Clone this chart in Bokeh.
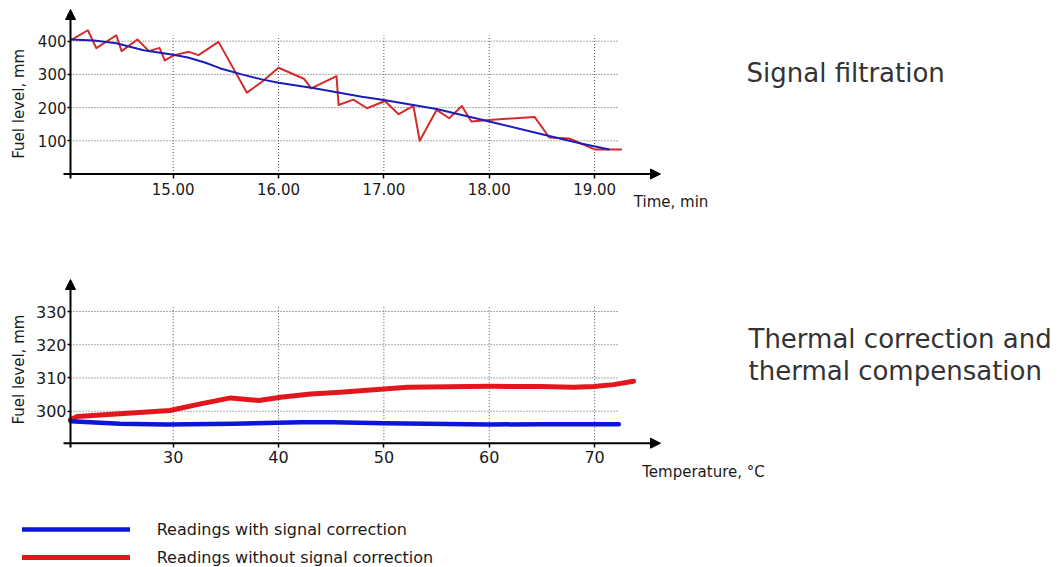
import math
from bokeh.plotting import figure
from bokeh.models import (Range1d, FixedTicker, NumeralTickFormatter, Arrow, NormalHead,
                          Label, Legend, LegendItem)
from bokeh.layouts import column
from bokeh.embed import file_html
from bokeh.resources import INLINE

# ---------------- data: signal filtration (time in min, fuel level in mm) ----------------
filt_time_raw = [14.03, 14.19, 14.27, 14.46, 14.51, 14.66, 14.77, 14.87, 14.92, 15.01,
                 15.15, 15.24, 15.43, 15.70, 15.84, 16.00, 16.24, 16.31, 16.55, 16.57,
                 16.71, 16.84, 17.01, 17.14, 17.28, 17.34, 17.50, 17.62, 17.74, 17.83,
                 17.97, 18.43, 18.57, 18.76, 19.00, 19.16, 19.26]
filt_level_raw = [403, 433, 379, 418, 370, 405, 370, 380, 342, 358,
                  368, 358, 398, 245, 277, 320, 287, 258, 295, 208,
                  224, 198, 220, 180, 205, 100, 193, 168, 205, 158,
                  162, 172, 110, 107, 74, 74, 74]
filt_time_smooth = [14.03, 14.25, 14.46, 14.72, 15.00, 15.14, 15.30, 15.45, 15.65, 15.84,
                    16.00, 16.34, 16.79, 17.00, 17.50, 18.00, 18.50, 18.87, 19.14]
filt_level_smooth = [405, 402, 394, 373, 359, 351, 336, 318, 300, 285,
                     275, 258, 233, 223, 196, 158, 120, 92, 74]
filt_xticks = [15, 16, 17, 18, 19]
filt_yticks = [100, 200, 300, 400]

# ---------------- data: thermal correction (temperature in C, fuel level in mm) ----------
temp_raw = [20.25, 20.89, 24.94, 29.69, 32.59, 35.44, 38.13, 40.19, 43.03, 45.88,
            50.0, 52.2, 60.1, 64.9, 68.0, 69.9, 71.8, 73.7]
level_raw = [297.4, 298.4, 299.2, 300.2, 302.2, 304.0, 303.2, 304.2, 305.2, 305.7,
             306.7, 307.2, 307.5, 307.4, 307.2, 307.4, 308.0, 309.0]
temp_corr = [20.25, 24.94, 29.43, 35.75, 42.08, 45.2, 50.0, 60.1, 64.9, 72.3]
level_corr = [297.0, 296.2, 296.0, 296.2, 296.7, 296.7, 296.4, 296.0, 296.1, 296.1]
temp_xticks = [30, 40, 50, 60, 70]
temp_yticks = [300, 310, 320, 330]

# ---------------- layout (screen pixel geometry) ----------------
FONT = "DejaVu Sans"
W = 1060
H1 = 240
H2 = 327
TOP2 = H1
BASE_SHIFT = 0.37   # em shift so that the text baseline lands where intended


def t_at(px):      # screen x -> minutes (top chart)
    return 17 + (px - 383.4) / 105.35


def lv1_at(py):    # screen y -> mm (top chart)
    return (173.5 - py) / 0.332


def T_at(px):      # screen x -> degrees (bottom chart)
    return 50 + (px - 383.4) / 10.535


def lv2_at(py):    # screen y -> mm (bottom chart)
    return 300 + (410.7 - py) / 3.323


def make_fig(xr, yr, h):
    p = figure(width=W, height=h, output_backend="svg", toolbar_location=None,
               x_range=Range1d(*xr), y_range=Range1d(*yr))
    p.min_border_left = p.min_border_right = p.min_border_top = p.min_border_bottom = 0
    p.outline_line_color = None
    p.xgrid.visible = False
    p.ygrid.visible = False
    p.background_fill_color = "white"
    p.border_fill_color = "white"
    return p


def style_axes(p, xticks, yticks, x_loc, y_loc, xfs, yfs, xstand, ystand):
    p.xaxis.fixed_location = x_loc
    p.yaxis.fixed_location = y_loc
    p.xaxis.ticker = FixedTicker(ticks=xticks)
    p.yaxis.ticker = FixedTicker(ticks=yticks)
    for ax in (p.xaxis, p.yaxis):
        ax.axis_line_color = None
        ax.major_tick_line_color = "black"
        ax.major_tick_line_width = 1.5
        ax.major_tick_in = 0
        ax.minor_tick_line_color = None
        ax.major_label_text_font = FONT
        ax.major_label_text_color = "#1a1a1a"
    p.xaxis.major_tick_out = 4
    p.yaxis.major_tick_out = 3
    p.xaxis.major_label_text_font_size = xfs
    p.yaxis.major_label_text_font_size = yfs
    p.xaxis.major_label_standoff = xstand
    p.yaxis.major_label_standoff = ystand


def add_axis_arrows(p, x0, x_tail, x_tip, y0, y_tail, y_tip):
    p.add_layout(Arrow(end=NormalHead(size=10, fill_color="black", line_color="black", line_width=1),
                       x_start=x_tail, y_start=y0, x_end=x_tip, y_end=y0,
                       line_color="black", line_width=2))
    p.add_layout(Arrow(end=NormalHead(size=10, fill_color="black", line_color="black", line_width=1),
                       x_start=x0, y_start=y_tail, x_end=x0, y_end=y_tip,
                       line_color="black", line_width=2))


def add_grid(p, xticks, yticks, x0, x1, y0, y1):
    p.segment(x0=xticks, y0=[y0] * len(xticks), x1=xticks, y1=[y1] * len(xticks),
              line_color="#555555", line_width=1, line_dash="1 2")
    p.segment(x0=[x0] * len(yticks), y0=yticks, x1=[x1] * len(yticks), y1=yticks,
              line_color="#555555", line_width=1, line_dash="1 2")


def text_at(p, fx, fy, px, py, text, fs, color="#1a1a1a"):
    """Left-aligned text whose baseline sits at screen (px, py)."""
    p.add_layout(Label(x=fx(px), y=fy(py - BASE_SHIFT * fs), text=text, text_font=FONT,
                       text_font_size=f"{fs}px", text_color=color,
                       text_align="left", text_baseline="alphabetic"))


def vlabel(p, x, y, text, fs):
    p.add_layout(Label(x=x, y=y, text=text, text_font=FONT, text_font_size=f"{fs}px",
                       text_color="#1a1a1a", angle=math.pi / 2,
                       text_align="center", text_baseline="middle"))


# ---------------- top chart ----------------
p1 = make_fig((t_at(0), t_at(W)), (lv1_at(H1), lv1_at(0)), H1)
x_axis_t = t_at(70)
add_grid(p1, filt_xticks, filt_yticks, x_axis_t, t_at(617), 0, lv1_at(35))
p1.line(filt_time_raw, filt_level_raw, line_color="#d42b2b", line_width=2, line_join="round")
p1.line(filt_time_smooth, filt_level_smooth, line_color="#1c1cb8", line_width=2, line_join="round")
style_axes(p1, filt_xticks, filt_yticks, 0, x_axis_t, "15px", "15px", 5, 1)
p1.xaxis.formatter = NumeralTickFormatter(format="0.00")
add_axis_arrows(p1, x_axis_t, t_at(63), t_at(660), 0, lv1_at(178), lv1_at(9))
text_at(p1, t_at, lv1_at, 746, 82.3, "Signal filtration", 26, color="#333333")
text_at(p1, t_at, lv1_at, 633.3, 206.7, "Time, min", 15)
vlabel(p1, t_at(18.6), lv1_at(103.3), "Fuel level, mm", 15)

# ---------------- bottom chart ----------------
p2 = make_fig((T_at(0), T_at(W)), (lv2_at(TOP2 + H2), lv2_at(TOP2)), H2)
y_axis_T = T_at(70)
x_axis_lv = lv2_at(442.7)
add_grid(p2, temp_xticks, temp_yticks, y_axis_T, T_at(617), x_axis_lv, lv2_at(306.7))
r_red = p2.line(temp_raw, level_raw, line_color="#e3161c", line_width=5,
                line_join="round", line_cap="round")
r_blue = p2.line(temp_corr, level_corr, line_color="#0c16d6", line_width=4.5,
                 line_join="round", line_cap="round")
style_axes(p2, temp_xticks, temp_yticks, x_axis_lv, y_axis_T, "16px", "16px", 4, 1)
add_axis_arrows(p2, y_axis_T, T_at(63), T_at(660), x_axis_lv, lv2_at(447), lv2_at(279))
text_at(p2, T_at, lv2_at, 748, 348.0, "Thermal correction and", 26, color="#333333")
text_at(p2, T_at, lv2_at, 748, 380.0, "thermal compensation", 26, color="#333333")
text_at(p2, T_at, lv2_at, 641.7, 476.7, "Temperature, \u00b0C", 15)
vlabel(p2, T_at(18.6), lv2_at(366.7), "Fuel level,  mm", 15)

legend = Legend(items=[LegendItem(label="Readings with signal correction", renderers=[r_blue]),
                       LegendItem(label="Readings without signal correction", renderers=[r_red])],
                location=(21.7, 0), padding=0, margin=0, spacing=8,
                glyph_width=108, glyph_height=20, label_height=20, label_standoff=27,
                label_text_font=FONT, label_text_font_size="16px", label_text_color="#1a1a1a",
                background_fill_alpha=0, border_line_alpha=0)
p2.add_layout(legend)

layout = column(p1, p2, spacing=0)
open("out.html", "w").write(file_html(layout, INLINE))
